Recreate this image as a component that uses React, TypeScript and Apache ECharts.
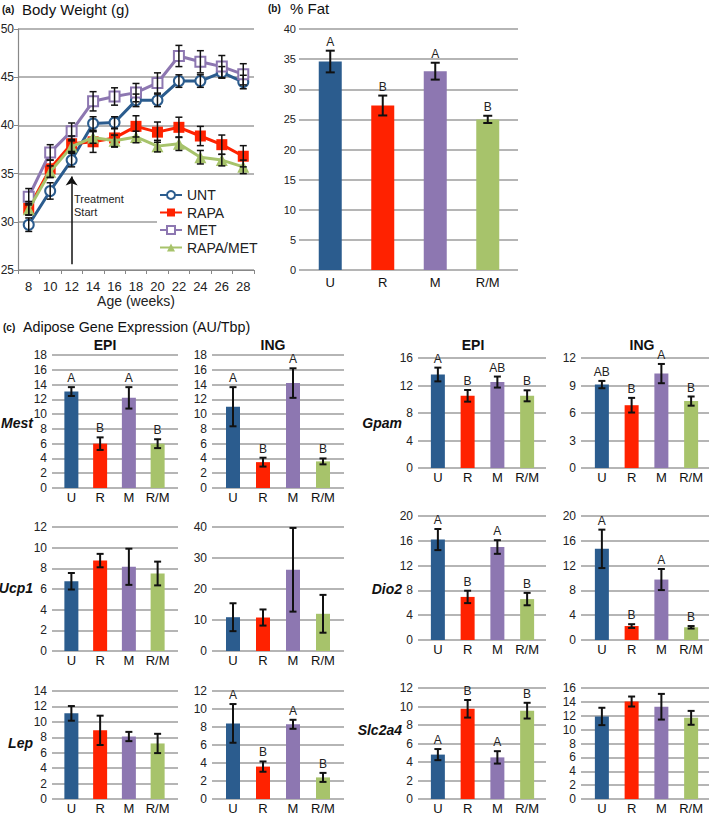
import React, { useEffect, useRef } from 'react';
import * as echarts from 'echarts';

// ---------- Panel (a): body weight ----------
const weeks = ['8', '10', '12', '14', '16', '18', '20', '22', '24', '26', '28'];
const untMean = [29.7, 33.2, 36.4, 40.2, 40.3, 42.6, 42.6, 44.6, 44.6, 45.5, 44.5];
const untErr = [0.7, 0.85, 0.7, 0.7, 0.6, 0.65, 0.65, 0.65, 0.65, 0.6, 0.7];
const rapaMean = [31.4, 35.5, 38.1, 38.3, 38.7, 39.9, 39.3, 39.8, 38.9, 38.0, 36.8];
const rapaErr = [0.7, 0.9, 0.8, 1.1, 0.95, 1.1, 1.05, 1.05, 1.0, 1.0, 1.1];
const metMean = [32.6, 37.2, 39.4, 42.5, 43.0, 43.4, 44.4, 47.2, 46.6, 46.1, 45.3];
const metErr = [0.85, 0.8, 0.85, 1.0, 0.9, 0.95, 1.05, 1.1, 1.15, 1.15, 1.1];
const rmMean = [31.3, 35.2, 37.8, 38.75, 38.4, 38.8, 37.85, 38.1, 36.7, 36.4, 35.7];
const rmErr = [0.6, 0.6, 0.6, 0.6, 0.6, 0.6, 0.6, 0.7, 0.7, 0.6, 0.7];
const seriesNames = ['UNT', 'RAPA', 'MET', 'RAPA/MET'];

// ---------- Panel (b): % fat ----------
const groups = ['U', 'R', 'M', 'R/M'];
const fatMean = [34.6, 27.3, 33.0, 25.0];
const fatErr = [1.8, 1.65, 1.4, 0.6];
const fatLetters = ['A', 'B', 'A', 'B'];

// ---------- Panel (c): gene expression ----------
const mestEpiMean = [13.05, 6.0, 12.2, 6.0];
const mestEpiErr = [0.6, 0.85, 1.45, 0.6];
const mestEpiLetters = ['A', 'B', 'A', 'B'];
const mestIngMean = [11.0, 3.5, 14.2, 3.6];
const mestIngErr = [2.65, 0.6, 2.0, 0.4];
const mestIngLetters = ['A', 'B', 'A', 'B'];

const ucp1EpiMean = [6.75, 8.75, 8.15, 7.5];
const ucp1EpiErr = [0.8, 0.65, 1.75, 1.15];
const ucp1IngMean = [10.9, 10.8, 26.2, 12.0];
const ucp1IngErr = [4.5, 2.6, 13.5, 6.1];

const lepEpiMean = [11.1, 8.9, 8.1, 7.2];
const lepEpiErr = [0.95, 1.9, 0.6, 1.25];
const lepIngMean = [8.4, 3.6, 8.3, 2.4];
const lepIngErr = [2.15, 0.57, 0.5, 0.5];
const lepIngLetters = ['A', 'B', 'A', 'B'];

const gpamEpiMean = [13.6, 10.5, 12.5, 10.5];
const gpamEpiErr = [1.0, 0.85, 0.8, 0.8];
const gpamEpiLetters = ['A', 'B', 'AB', 'B'];
const gpamIngMean = [9.1, 6.85, 10.3, 7.3];
const gpamIngErr = [0.4, 0.8, 1.05, 0.5];
const gpamIngLetters = ['AB', 'B', 'A', 'B'];

const dio2EpiMean = [16.2, 6.95, 15.0, 6.6];
const dio2EpiErr = [1.7, 1.0, 1.1, 1.0];
const dio2EpiLetters = ['A', 'B', 'A', 'B'];
const dio2IngMean = [14.7, 2.25, 9.75, 2.05];
const dio2IngErr = [3.1, 0.3, 1.7, 0.2];
const dio2IngLetters = ['A', 'B', 'A', 'B'];

const slcEpiMean = [4.8, 9.75, 4.5, 9.55];
const slcEpiErr = [0.6, 0.95, 0.67, 0.85];
const slcEpiLetters = ['A', 'B', 'A', 'B'];
const slcIngMean = [11.9, 14.05, 13.3, 11.7];
const slcIngErr = [1.25, 0.72, 1.85, 1.0];

const FONT = '"Liberation Sans", Arial, sans-serif';
const COLORS = ['#2B5C8E', '#FF2200', '#8D77B1', '#A7C36B'];
const GRID = '#9c9c9c';

function errRender(caps: number, lw: number, letters?: string[], letterSize = 12) {
  return (params: any, api: any) => {
    const i = api.value(0);
    const m = api.value(1);
    const e = api.value(2);
    const top = api.coord([i, m + e]);
    const bot = api.coord([i, m - e]);
    const x = top[0];
    const st = { stroke: '#111', lineWidth: lw };
    const children: any[] = [
      { type: 'line', shape: { x1: x, y1: top[1], x2: x, y2: bot[1] }, style: st },
      { type: 'line', shape: { x1: x - caps, y1: top[1], x2: x + caps, y2: top[1] }, style: st },
      { type: 'line', shape: { x1: x - caps, y1: bot[1], x2: x + caps, y2: bot[1] }, style: st },
    ];
    const letter = letters ? letters[params.dataIndex] : '';
    if (letter) {
      children.push({
        type: 'text',
        style: {
          text: letter, x, y: top[1] - 3, align: 'center', verticalAlign: 'bottom',
          textAlign: 'center', textVerticalAlign: 'bottom',
          font: `${letterSize}px ${FONT}`, fill: '#222',
        },
      });
    }
    return { type: 'group', children };
  };
}

export default function App() {
  const ref = useRef<HTMLDivElement>(null);
  useEffect(() => {
    if (!ref.current) return;
    const chart = echarts.init(ref.current, undefined, { renderer: 'svg' });
    const grids: any[] = [];
    const xAxes: any[] = [];
    const yAxes: any[] = [];
    const series: any[] = [];
    const graphics: any[] = [];
    const mkGrid = (left: number, top: number, width: number, height: number) => ({
      left, top, width, height, containLabel: false, outerBoundsMode: 'none',
    });

    // ---- Panel (a)
    const aTop = 29, aBottom = 270, aLeft = 18, aRight = 254;
    grids.push(mkGrid(aLeft, aTop, aRight - aLeft, aBottom - aTop));
    xAxes.push({
      gridIndex: 0, type: 'category', data: weeks, boundaryGap: true,
      axisLine: { lineStyle: { color: '#888', width: 1.2 } },
      axisTick: { show: true, length: 4, lineStyle: { color: '#888' } },
      axisLabel: { interval: 0, fontSize: 13, color: '#222', margin: 10, fontFamily: FONT },
      name: 'Age (weeks)', nameLocation: 'middle', nameGap: 23,
      nameTextStyle: { fontSize: 14, color: '#222', fontFamily: FONT },
    });
    yAxes.push({
      gridIndex: 0, type: 'value', min: 25, max: 50, interval: 5,
      axisLine: { show: true, lineStyle: { color: '#888', width: 1.2 } },
      axisTick: { show: true, length: 4, lineStyle: { color: '#888' } },
      splitLine: { show: true, lineStyle: { color: GRID, width: 1.5 } },
      axisLabel: { fontSize: 12, color: '#222', margin: 4, fontFamily: FONT },
    });
    const lineData = [
      { mean: untMean, err: untErr, symbol: 'circle', size: 10, fill: '#fff' },
      { mean: rapaMean, err: rapaErr, symbol: 'rect', size: 11, fill: COLORS[1] },
      { mean: metMean, err: metErr, symbol: 'rect', size: 10, fill: '#fff' },
      { mean: rmMean, err: rmErr, symbol: 'triangle', size: 12, fill: COLORS[3] },
    ];
    lineData.forEach((d) => {
      series.push({
        type: 'custom', xAxisIndex: 0, yAxisIndex: 0, z: 4, silent: true,
        data: d.mean.map((v, i) => [i, v, d.err[i]]),
        renderItem: errRender(3.5, 1.5),
      });
    });
    lineData.forEach((d, k) => {
      const s: any = {
        type: 'line', name: seriesNames[k], xAxisIndex: 0, yAxisIndex: 0, z: 3 + k * 0.1,
        data: d.mean, symbol: d.symbol, symbolSize: d.size, showAllSymbol: true,
        lineStyle: { color: COLORS[k], width: 3 },
        itemStyle: { color: d.fill, borderColor: COLORS[k], borderWidth: d.fill === '#fff' ? 2 : 0 },
      };
      if (k === 0) {
        s.markLine = {
          silent: true, symbol: ['none', 'arrow'], symbolSize: 9,
          label: { show: false },
          lineStyle: { color: '#111', width: 1.5, type: 'solid' },
          data: [[{ coord: ['12', 25.6] }, { coord: ['12', 34.7] }]],
        };
      }
      series.push(s);
    });
    graphics.push({
      type: 'text', x: 74, y: 192,
      style: { text: 'Treatment\nStart', font: `11px ${FONT}`, fill: '#222', lineHeight: 13 },
    });

    // ---- bar chart helper
    let idx = 1;
    function addBars(c: any) {
      const g = idx;
      grids.push(mkGrid(c.ox0, c.top, c.ox1 - c.ox0, c.bottom - c.top));
      grids.push(mkGrid(c.ix0, c.top, c.ix1 - c.ix0, c.bottom - c.top));
      xAxes.push({ gridIndex: g, type: 'category', data: groups, show: false });
      yAxes.push({
        gridIndex: g, type: 'value', min: 0, max: c.max, interval: c.interval,
        axisLine: { show: false }, axisTick: { show: false },
        splitLine: { show: true, lineStyle: { color: GRID, width: 1.5 } },
        axisLabel: { fontSize: c.ySize || 12, color: '#222', margin: c.yMargin ?? 5, fontFamily: FONT },
      });
      xAxes.push({
        gridIndex: g + 1, type: 'category', data: groups,
        axisLine: { show: false }, axisTick: { show: false },
        axisLabel: { interval: 0, fontSize: 13, color: '#111', margin: c.xMargin ?? 3, fontFamily: FONT },
      });
      yAxes.push({ gridIndex: g + 1, type: 'value', min: 0, max: c.max, show: false, splitLine: { show: false } });
      series.push({
        type: 'bar', xAxisIndex: g + 1, yAxisIndex: g + 1, barWidth: c.barWidth || 14, z: 2,
        data: c.mean.map((v: number, i: number) => ({ value: v, itemStyle: { color: COLORS[i] } })),
      });
      series.push({
        type: 'custom', xAxisIndex: g + 1, yAxisIndex: g + 1, z: 3, silent: true,
        data: c.mean.map((v: number, i: number) => [i, v, c.err[i]]),
        renderItem: errRender(c.cap || 3.5, 2, c.letters, c.letterSize || 12),
      });
      idx += 2;
    }

    // ---- Panel (b)
    addBars({ ox0: 299, ox1: 518, ix0: 304, ix1: 514, top: 29, bottom: 270, max: 40, interval: 5,
      mean: fatMean, err: fatErr, letters: fatLetters, barWidth: 23, ySize: 11, yMargin: 3, xMargin: 6, cap: 4.5 });

    // ---- Panel (c)
    const L_EPI = { ox0: 52, ox1: 178, ix0: 57, ix1: 172 };
    const L_ING = { ox0: 212, ox1: 344, ix0: 218, ix1: 338 };
    const R_EPI = { ox0: 418, ox1: 546, ix0: 423, ix1: 542 };
    const R_ING = { ox0: 581, ox1: 709, ix0: 587, ix1: 706 };

    addBars({ ...L_EPI, top: 355, bottom: 488, max: 18, interval: 2, mean: mestEpiMean, err: mestEpiErr, letters: mestEpiLetters });
    addBars({ ...L_ING, top: 355, bottom: 488, max: 18, interval: 2, mean: mestIngMean, err: mestIngErr, letters: mestIngLetters });
    addBars({ ...L_EPI, top: 527, bottom: 651, max: 12, interval: 2, mean: ucp1EpiMean, err: ucp1EpiErr });
    addBars({ ...L_ING, top: 527, bottom: 651, max: 40, interval: 10, mean: ucp1IngMean, err: ucp1IngErr });
    addBars({ ...L_EPI, top: 691, bottom: 799, max: 14, interval: 2, mean: lepEpiMean, err: lepEpiErr });
    addBars({ ...L_ING, top: 691, bottom: 799, max: 12, interval: 2, mean: lepIngMean, err: lepIngErr, letters: lepIngLetters });

    addBars({ ...R_EPI, top: 358, bottom: 468, max: 16, interval: 4, mean: gpamEpiMean, err: gpamEpiErr, letters: gpamEpiLetters });
    addBars({ ...R_ING, top: 358, bottom: 468, max: 12, interval: 3, mean: gpamIngMean, err: gpamIngErr, letters: gpamIngLetters });
    addBars({ ...R_EPI, top: 516, bottom: 640, max: 20, interval: 4, mean: dio2EpiMean, err: dio2EpiErr, letters: dio2EpiLetters });
    addBars({ ...R_ING, top: 516, bottom: 640, max: 20, interval: 4, mean: dio2IngMean, err: dio2IngErr, letters: dio2IngLetters });
    addBars({ ...R_EPI, top: 688, bottom: 799, max: 12, interval: 2, mean: slcEpiMean, err: slcEpiErr, letters: slcEpiLetters });
    addBars({ ...R_ING, top: 688, bottom: 799, max: 16, interval: 2, mean: slcIngMean, err: slcIngErr });

    // ---- titles and labels
    const txt = (x: number, y: number, text: string, font: string, align = 'left') => ({
      type: 'text', x, y,
      style: { text, font, fill: '#111', align, verticalAlign: 'middle', textAlign: align, textVerticalAlign: 'middle' },
    });
    graphics.push(txt(2, 9, '(a)', `bold 10px ${FONT}`));
    graphics.push(txt(22, 9, 'Body Weight (g)', `15px ${FONT}`));
    graphics.push(txt(268, 8, '(b)', `bold 10px ${FONT}`));
    graphics.push(txt(290, 8, '% Fat', `15px ${FONT}`));
    graphics.push(txt(3, 327, '(c)', `bold 10px ${FONT}`));
    graphics.push(txt(23, 327, 'Adipose Gene Expression (AU/Tbp)', `14.3px ${FONT}`));
    graphics.push(txt(105, 345, 'EPI', `bold 14px ${FONT}`, 'center'));
    graphics.push(txt(273, 345, 'ING', `bold 14px ${FONT}`, 'center'));
    graphics.push(txt(473, 345, 'EPI', `bold 14px ${FONT}`, 'center'));
    graphics.push(txt(642, 345, 'ING', `bold 14px ${FONT}`, 'center'));
    const gene = `italic bold 14px ${FONT}`;
    graphics.push(txt(33, 423, 'Mest', gene, 'right'));
    graphics.push(txt(33, 588, 'Ucp1', gene, 'right'));
    graphics.push(txt(33, 743, 'Lep', gene, 'right'));
    graphics.push(txt(402, 423, 'Gpam', gene, 'right'));
    graphics.push(txt(402, 589, 'Dio2', gene, 'right'));
    graphics.push(txt(402, 730, 'Slc2a4', gene, 'right'));

    chart.setOption({
      animation: false,
      backgroundColor: '#fff',
      textStyle: { fontFamily: FONT },
      grid: grids,
      xAxis: xAxes,
      yAxis: yAxes,
      series,
      legend: {
        data: seriesNames, orient: 'vertical', left: 157, top: 188,
        itemWidth: 22, itemHeight: 10, itemGap: 3.5, padding: [0, 2],
        backgroundColor: '#fff',
        textStyle: { fontSize: 14, color: '#222', fontFamily: FONT },
      },
      graphic: graphics,
    });
    return () => chart.dispose();
  }, []);
  return <div ref={ref} style={{ position: 'fixed', left: 0, top: 0, width: 709, height: 816 }} />;
}
